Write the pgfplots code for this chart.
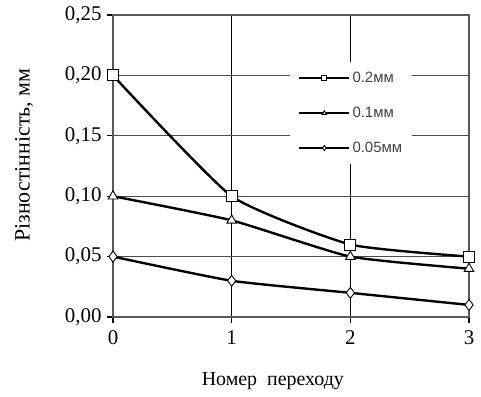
\documentclass[border=0pt]{standalone}
\usepackage{pgfplots}
\pgfplotsset{compat=1.18}
\usepackage{fontspec}
\setmainfont{Liberation Serif}
\newfontfamily\legfont{Liberation Sans}
\begin{document}
\begin{tikzpicture}
\useasboundingbox (-113bp,-80bp) rectangle (368bp,317bp);
\begin{axis}[
  scale only axis,
  width=356bp, height=302bp,
  xmin=0, xmax=3, ymin=0, ymax=0.25,
  xtick={0,1,2,3},
  ytick={0,0.05,0.1,0.15,0.2,0.25},
  /pgf/number format/assume math mode=true,
  ticklabel style={font=\fontsize{21}{24}\selectfont},
  xticklabel style={yshift=-4bp},
  yticklabel style={xshift=-2bp, /pgf/number format/.cd, use comma, fixed, fixed zerofill, precision=2},
  tick align=outside,
  major tick length=6bp,
  tick style={black, line width=1.2pt},
  xtick pos=bottom, ytick pos=left,
  grid=major,
  x grid style={black, line width=1.2pt},
  y grid style={black!70, line width=1.2pt},
  axis line style={black!65, line width=1.2pt},
  xlabel={Номер\ \ переходу},
  ylabel={Різностінність, мм},
  xlabel style={font=\fontsize{20}{24}\selectfont, at={(axis description cs:0.449,-0.212)}, anchor=center},
  ylabel style={font=\fontsize{22}{24}\selectfont, at={(axis description cs:-0.25,0.536)}, anchor=center},
  legend cell align=left,
  legend style={at={(0.497,0.844)}, anchor=north west, draw=none, fill=white,
    font=\legfont\fontsize{15}{17}\selectfont, text=black!75,
    inner xsep=8bp, inner ysep=8bp,
    row sep=19bp},
  legend image code/.code={%
    \draw[mark repeat=2,mark phase=2,#1,mark size=2.5bp,line width=2.4pt]
      plot coordinates {(0bp,0bp) (25bp,0bp) (50bp,0bp)};},
]
\addplot[black, line width=2.4pt, smooth, tension=0.3, mark=square*, mark size=5.5bp,
  mark options={fill=white, line width=0.9pt, solid}]
  coordinates {(0,0.20) (1,0.10) (2,0.06) (3,0.05)};
\addlegendentry{0.2мм}
\addplot[black, line width=2.4pt, smooth, tension=0.3, mark=triangle*, mark size=5.5bp,
  mark options={fill=white, line width=0.9pt, solid}]
  coordinates {(0,0.10) (1,0.08) (2,0.05) (3,0.04)};
\addlegendentry{0.1мм}
\addplot[black, line width=2.4pt, smooth, tension=0.3, mark=diamond*, mark size=5.5bp,
  mark options={fill=white, line width=0.9pt, solid}]
  coordinates {(0,0.05) (1,0.03) (2,0.02) (3,0.01)};
\addlegendentry{0.05мм}
\end{axis}
\end{tikzpicture}
\end{document}
